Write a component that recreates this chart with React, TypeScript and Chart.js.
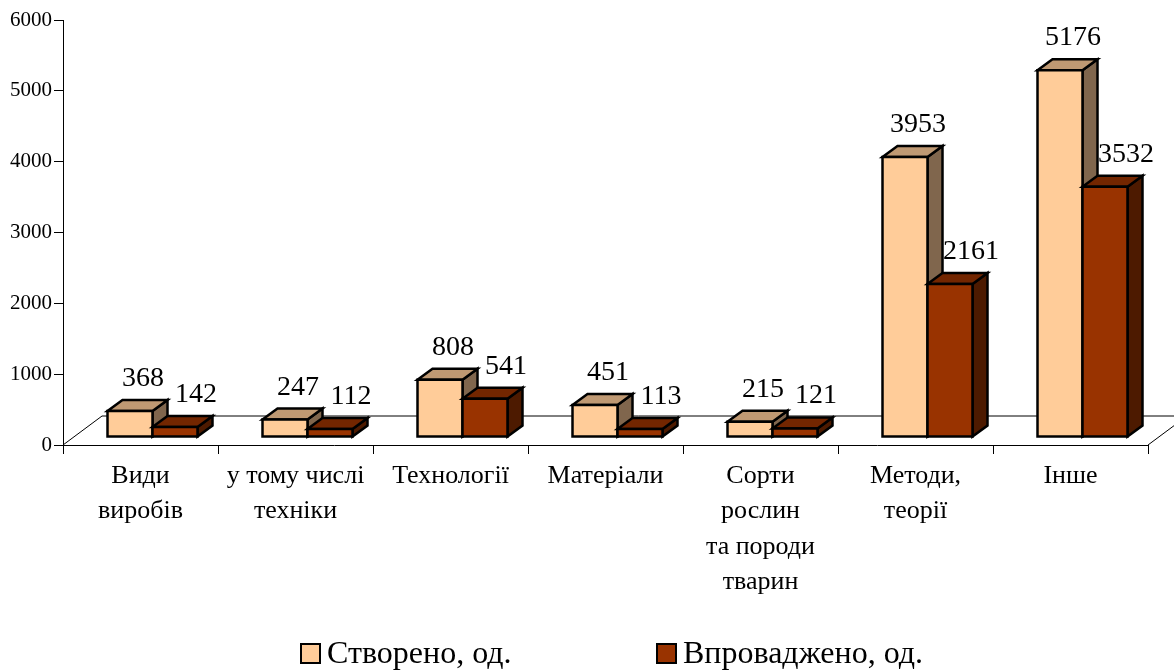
import { useEffect, useRef } from 'react';
import { Chart, registerables } from 'chart.js';

Chart.register(...registerables);

// ---------- data ----------
const categories: string[][] = [
  ['Види', 'виробів'],
  ['у тому числі', 'техніки'],
  ['Технології'],
  ['Матеріали'],
  ['Сорти', 'рослин', 'та породи', 'тварин'],
  ['Методи,', 'теорії'],
  ['Інше'],
];
const createdValues = [368, 247, 808, 451, 215, 3953, 5176];
const implementedValues = [142, 112, 541, 113, 121, 2161, 3532];
const seriesNames = ['Створено, од.', 'Впроваджено, од.'];
const yMin = 0;
const yMax = 6000;
const yStep = 1000;

// ---------- styling ----------
const FONT = '"Liberation Serif", "Times New Roman", Times, serif';
const seriesColors = [
  { front: '#FFCC99', top: '#BF9973', side: '#80664D' },
  { front: '#993300', top: '#732600', side: '#4D1A00' },
];
const BAR_DEPTH = { dx: 15, dy: -11 };
const BAR_SHIFT = { dx: 12, dy: -8 };
const FLOOR_DEPTH = { dx: 39, dy: -29 };
const LABEL_SHIFT = [13, 21];
const LABEL_RISE = 25;
const LEGEND_X = [301, 657];
const LEGEND_BOX = 19;
const LEGEND_BASELINE = 663;

function poly(ctx: CanvasRenderingContext2D, pts: number[][], fill: string) {
  ctx.beginPath();
  ctx.moveTo(pts[0][0], pts[0][1]);
  for (let i = 1; i < pts.length; i++) ctx.lineTo(pts[i][0], pts[i][1]);
  ctx.closePath();
  ctx.fillStyle = fill;
  ctx.fill();
  ctx.stroke();
}

const bar3dPlugin = {
  id: 'bar3d',
  beforeDatasetsDraw(chart: any) {
    const { ctx, chartArea } = chart;
    const { left, right, bottom } = chartArea;
    ctx.save();
    // floor outline
    ctx.strokeStyle = '#000';
    ctx.lineWidth = 1;
    ctx.beginPath();
    ctx.moveTo(left, bottom);
    ctx.lineTo(left + FLOOR_DEPTH.dx, bottom + FLOOR_DEPTH.dy);
    ctx.lineTo(right + FLOOR_DEPTH.dx, bottom + FLOOR_DEPTH.dy);
    ctx.lineTo(right, bottom);
    ctx.stroke();

    ctx.lineWidth = 2.5;
    ctx.lineJoin = 'miter';
    const n = chart.data.labels.length;
    const nd = chart.data.datasets.length;
    for (let i = 0; i < n; i++) {
      for (let d = 0; d < nd; d++) {
        const el = chart.getDatasetMeta(d).data[i];
        if (!el) continue;
        const { x, y, base, width } = el.getProps(['x', 'y', 'base', 'width'], true);
        const c = seriesColors[d];
        const x0 = x - width / 2 + BAR_SHIFT.dx;
        const x1 = x + width / 2 + BAR_SHIFT.dx;
        const yt = y + BAR_SHIFT.dy;
        const yb = base + BAR_SHIFT.dy;
        const { dx, dy } = BAR_DEPTH;
        ctx.strokeStyle = '#000';
        poly(ctx, [[x1, yb], [x1, yt], [x1 + dx, yt + dy], [x1 + dx, yb + dy]], c.side);
        poly(ctx, [[x0, yt], [x1, yt], [x1 + dx, yt + dy], [x0 + dx, yt + dy]], c.top);
        poly(ctx, [[x0, yt], [x1, yt], [x1, yb], [x0, yb]], c.front);
      }
    }

    // value labels
    ctx.fillStyle = '#000';
    ctx.font = `28px ${FONT}`;
    ctx.textAlign = 'center';
    ctx.textBaseline = 'alphabetic';
    for (let i = 0; i < n; i++) {
      for (let d = 0; d < nd; d++) {
        const el = chart.getDatasetMeta(d).data[i];
        if (!el) continue;
        const { x, y } = el.getProps(['x', 'y'], true);
        const v = chart.data.datasets[d].data[i];
        ctx.fillText(String(v), x + BAR_SHIFT.dx + LABEL_SHIFT[d], y + BAR_SHIFT.dy - LABEL_RISE);
      }
    }
    ctx.restore();
    return false;
  },
  afterDraw(chart: any) {
    const { ctx } = chart;
    ctx.save();
    ctx.font = `32px ${FONT}`;
    ctx.textAlign = 'left';
    ctx.textBaseline = 'alphabetic';
    chart.data.datasets.forEach((ds: any, d: number) => {
      const bx = LEGEND_X[d];
      const by = LEGEND_BASELINE - LEGEND_BOX;
      ctx.fillStyle = seriesColors[d].front;
      ctx.strokeStyle = '#000';
      ctx.lineWidth = 2;
      ctx.fillRect(bx, by, LEGEND_BOX, LEGEND_BOX);
      ctx.strokeRect(bx, by, LEGEND_BOX, LEGEND_BOX);
      ctx.fillStyle = '#000';
      ctx.fillText(ds.label, bx + LEGEND_BOX + 7, LEGEND_BASELINE);
    });
    ctx.restore();
  },
};

export default function App() {
  const ref = useRef<HTMLCanvasElement>(null);
  useEffect(() => {
    if (!ref.current) return;
    const chart = new Chart(ref.current, {
      type: 'bar',
      data: {
        labels: categories,
        datasets: [
          { label: seriesNames[0], data: createdValues, backgroundColor: seriesColors[0].front },
          { label: seriesNames[1], data: implementedValues, backgroundColor: seriesColors[1].front },
        ],
      },
      options: {
        responsive: false,
        animation: false,
        devicePixelRatio: 1,
        categoryPercentage: 90 / 155,
        barPercentage: 1,
        layout: { padding: { left: 0, right: 26, top: 20, bottom: 0 } },
        plugins: {
          legend: { display: false },
          title: { display: false },
          tooltip: { enabled: false },
        },
        scales: {
          x: {
            type: 'category',
            offset: true,
            grid: { offset: true, drawOnChartArea: false, drawTicks: true, tickLength: 9, color: '#000' },
            border: { color: '#000', width: 1 },
            ticks: {
              color: '#000',
              font: { family: FONT, size: 26, lineHeight: 1.35 },
              padding: 5,
              maxRotation: 0,
              minRotation: 0,
              autoSkip: false,
            },
            afterFit: (s: any) => { s.height = 225; },
          },
          y: {
            min: yMin,
            max: yMax,
            grid: { drawOnChartArea: false, drawTicks: true, tickLength: 9, color: '#000' },
            border: { color: '#000', width: 1 },
            ticks: {
              stepSize: yStep,
              color: '#000',
              font: { family: FONT, size: 21 },
              padding: 2,
              callback: (v: any) => String(v),
            },
            afterFit: (s: any) => { s.width = 63; },
          },
        },
      },
      plugins: [bar3dPlugin],
    } as any);
    return () => chart.destroy();
  }, []);
  return (
    <div style={{ position: 'fixed', left: 0, top: 0, width: 1174, height: 670, background: '#fff' }}>
      <canvas ref={ref} width={1174} height={670} style={{ display: 'block' }} />
    </div>
  );
}
